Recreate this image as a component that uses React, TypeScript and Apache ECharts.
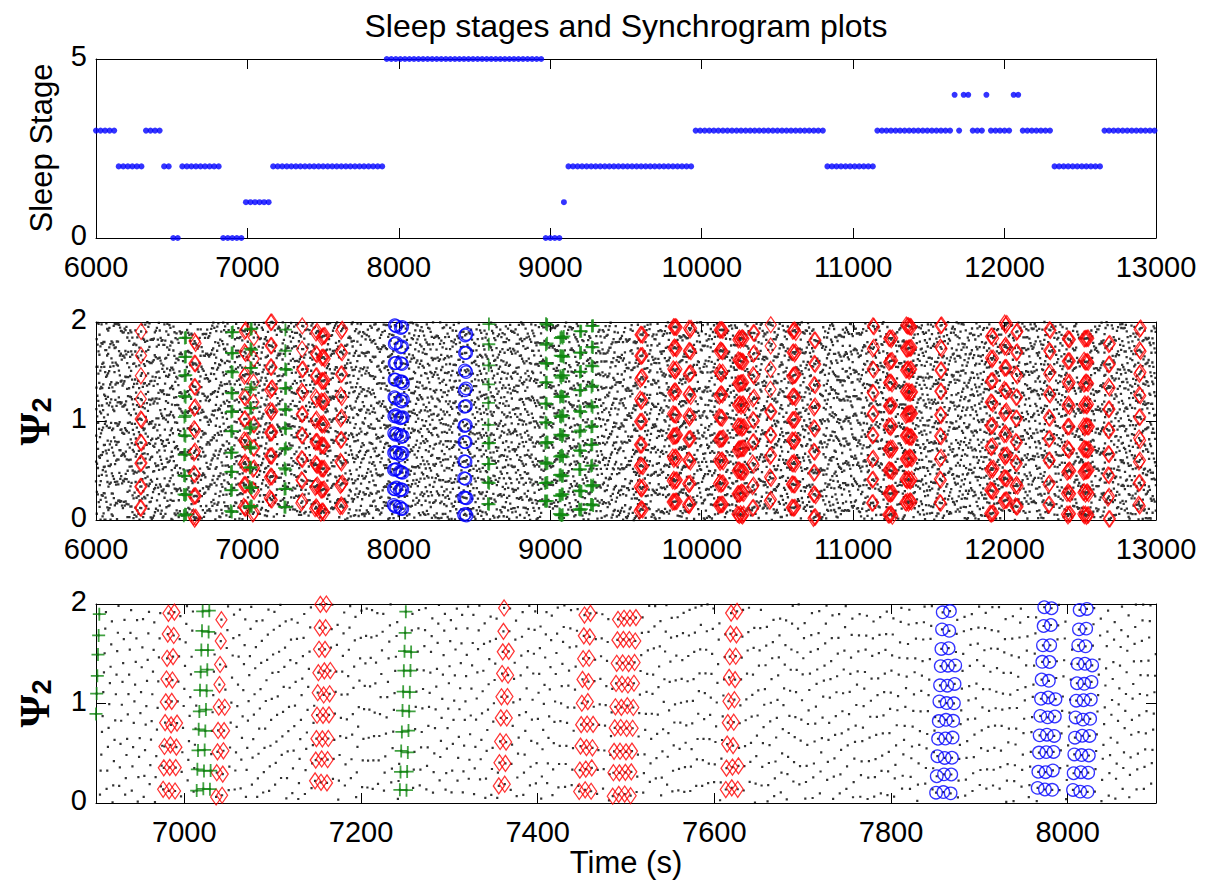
import React, { useEffect, useRef } from "react";
import * as echarts from "echarts";

// ---------------- DATA ----------------
const TITLE = "Sleep stages and Synchrogram plots";
const X_NAME = "Time (s)";
const STAGE_NAME = "Sleep Stage";

// Sleep stage hypnogram, 30 s epochs: [first epoch time (s), number of epochs, stage]
const stageRuns: [number, number, number][] = [
  [6000, 5, 3], [6150, 6, 2], [6330, 4, 3], [6450, 2, 2], [6510, 2, 0],
  [6570, 9, 2], [6840, 5, 0], [6990, 6, 1], [7170, 25, 2], [7920, 35, 5],
  [8970, 4, 0], [9090, 1, 1], [9120, 28, 2], [9960, 29, 3], [10830, 11, 2],
  [11160, 17, 3], [11670, 1, 4], [11700, 1, 3], [11730, 2, 4], [11790, 3, 3],
  [11880, 1, 4], [11910, 5, 3], [12060, 2, 4], [12120, 7, 3], [12330, 11, 2],
  [12660, 12, 3],
];
const EPOCH = 30;

// mean heart beat interval (s)
const beatInterval = 0.75;

// Ψ2 advance per heart beat between synchronisation episodes: [from time (s), step]
const phaseSteps: [number, number][] = [
  [6000, 0.231], [6080, 0.214], [6150, 0.238], [6230, 0.226], [6310, 0.209],
  [6400, 0.243], [6470, 0.217], [6530, 0.205], [6620, 0.228], [6700, 0.212],
  [6780, 0.235], [6850, 0.204], [6920, 0.218], [7000, 0.207], [7060, 0.229],
  [7100, 0.214], [7180, 0.236], [7220, 0.198], [7280, 0.226], [7330, 0.215],
  [7390, 0.232], [7420, 0.211], [7540, 0.228], [7580, 0.216], [7650, 0.205],
  [7700, 0.193], [7760, 0.188], [7810, 0.176], [7900, 0.186], [7940, 0.178],
  [8050, 0.191], [8120, 0.174], [8200, 0.185], [8280, 0.179], [8350, 0.188],
  [8470, 0.196], [8530, 0.207], [8620, 0.193], [8700, 0.212], [8780, 0.198],
  [8860, 0.206], [8920, 0.195], [9000, 0.214], [9120, 0.191], [9240, 0.208],
  [9320, 0.226], [9400, 0.213], [9480, 0.237], [9540, 0.219], [9650, 0.231],
  [9720, 0.212], [9760, 0.227], [9880, 0.215], [9960, 0.232], [10040, 0.216],
  [10180, 0.229], [10300, 0.211], [10380, 0.234], [10500, 0.218], [10560, 0.227],
  [10680, 0.213], [10780, 0.236], [10860, 0.209], [10940, 0.228], [11020, 0.217],
  [11080, 0.203], [11180, 0.233], [11300, 0.214], [11430, 0.229], [11500, 0.21],
  [11620, 0.237], [11700, 0.215], [11780, 0.203], [11850, 0.226], [11960, 0.214],
  [12040, 0.232], [12120, 0.218], [12200, 0.206], [12250, 0.229], [12350, 0.215],
  [12460, 0.238], [12600, 0.213], [12650, 0.226], [12720, 0.209], [12800, 0.234],
  [12850, 0.217], [12930, 0.228],
];

// short-term changes of the Ψ2 advance, one value per 25 s block (cycled)
const WOBBLE_BLOCK = 25;
const stepWobble = [
  0.011, -0.007, 0.014, -0.012, 0.003, -0.015, 0.008, 0.013, -0.004, -0.011,
  0.006, -0.014, 0.01, 0.001, -0.009, 0.015, -0.006, 0.004, -0.013, 0.009,
  -0.002, 0.012, -0.008,
];

// beat-to-beat Ψ2 irregularity (cycled over the beats)
const beatJitter = [
  0.012, -0.021, 0.005, 0.018, -0.009, -0.024, 0.015, 0.002, -0.013, 0.022,
  -0.006, 0.009, -0.018, 0.025, -0.002, -0.015, 0.011, 0.019, -0.023, 0.004,
  -0.011, 0.016, -0.004, 0.021, -0.019, 0.007, -0.026, 0.013, 0.001, -0.008,
  0.024, -0.016, 0.006, -0.012, 0.017, -0.003, 0.02,
];

// Synchronisation episodes:
// [first beat time (s), beats, rows per two breaths, Ψ2 of first beat, shown in overview (1/0)]
const redEpisodes: [number, number, number, number, number][] = [
  [6292, 14, 9, 0.12, 1], [6645, 20, 9, 0.02, 1], [6976, 22, 9, 0.13, 1],
  [7036, 14, 9, 0.07, 1], [7148, 24, 9, 0.21, 1], [7356, 16, 9, 0.18, 1],
  [7447, 22, 9, 0.12, 1], [7485, 36, 9, 0.08, 1], [7613, 20, 9, 0.14, 1],
  [9590, 30, 9, 0.1, 1], [9808, 40, 9, 0.18, 1], [9910, 27, 9, 0.15, 1],
  [10113, 40, 9, 0.15, 1], [10236, 60, 9, 0.05, 1], [10335, 18, 9, 0.12, 1],
  [10450, 14, 9, 0.2, 1], [10595, 36, 9, 0.13, 1], [10738, 20, 9, 0.03, 1],
  [11125, 18, 9, 0.18, 1], [11232, 40, 9, 0.05, 1], [11345, 60, 9, 0.18, 1],
  [11572, 18, 9, 0.18, 1], [11905, 30, 9, 0.07, 1], [11995, 30, 9, 0.2, 1],
  [12072, 20, 9, 0.13, 1], [12290, 18, 9, 0.15, 1], [12412, 30, 9, 0.05, 1],
  [12520, 50, 9, 0.05, 1], [12683, 18, 9, 0.23, 1], [12886, 18, 9, 0.15, 1],
];
const greenEpisodes: [number, number, number, number, number][] = [
  [6580, 22, 10, 0.05, 1], [6889.5, 20, 10, 0.09, 1], [7014, 22, 10, 0.13, 1],
  [7244, 18, 10, 0.12, 1], [8588, 14, 10, 0.17, 1], [8965, 24, 10, 0.18, 1],
  [9060, 40, 10, 0.05, 1], [9190, 22, 10, 0.1, 1], [9268, 22, 10, 0.15, 1],
];
const blueEpisodes: [number, number, number, number, number][] = [
  [7851, 30, 11, 0.1, 0], [7966, 28, 11, 0.14, 1], [8006, 30, 11, 0.12, 1],
  [8430, 24, 11, 0.05, 1],
];

const overviewRange = [6000, 13000];
const zoomRange = [6900, 8100];
const zoomTicks = [7000, 7200, 7400, 7600, 7800, 8000];

// ---------------- BUILD ----------------
type Beat = { t: number; psi: number; kind: number; overview: number };

const wrap2 = (v: number) => ((v % 2) + 2) % 2;

function buildBeats(): Beat[] {
  const eps = [
    ...redEpisodes.map((e) => ({ e, kind: 0 })),
    ...greenEpisodes.map((e) => ({ e, kind: 1 })),
    ...blueEpisodes.map((e) => ({ e, kind: 2 })),
  ].sort((a, b) => a.e[0] - b.e[0]);
  const beats: Beat[] = [];
  let t = overviewRange[0];
  let psi = 0.37;
  let ei = 0;
  let si = 0;
  let k = 0;
  while (t <= overviewRange[1]) {
    const ep = eps[ei];
    if (ep && t >= ep.e[0] - beatInterval * 0.5) {
      const [t0, N, n, psi0, ov] = ep.e;
      t = t0;
      psi = psi0;
      for (let j = 0; j < N; j++) {
        const jit = beatJitter[k % beatJitter.length] * 0.5;
        beats.push({ t, psi: wrap2(psi + jit), kind: ep.kind, overview: ov });
        psi = wrap2(psi + 2 / n);
        t += beatInterval;
        k++;
      }
      ei++;
      continue;
    }
    while (si + 1 < phaseSteps.length && phaseSteps[si + 1][0] <= t) si++;
    const jit = beatJitter[k % beatJitter.length];
    const wob = stepWobble[Math.floor((t - overviewRange[0]) / WOBBLE_BLOCK) % stepWobble.length];
    beats.push({ t, psi: wrap2(psi + 1.6 * jit), kind: -1, overview: 1 });
    psi = wrap2(psi + phaseSteps[si][1] + wob + jit);
    t += beatInterval;
    k++;
  }
  return beats;
}

const FONT = '"Liberation Sans", Arial, Helvetica, sans-serif';
const LABEL_SIZE = 29;

function xAx(gridIndex: number, range: number[], opts: any, top: boolean) {
  return {
    type: "value",
    gridIndex,
    position: top ? "top" : "bottom",
    min: range[0],
    max: range[1],
    ...opts,
    axisLine: { show: true, onZero: false, lineStyle: { color: "#000", width: 1 } },
    axisTick: {
      show: true,
      inside: true,
      length: 10,
      lineStyle: { color: "#000", width: 1 },
      ...(opts.customValues ? { customValues: opts.customValues } : {}),
    },
    axisLabel: {
      show: !top,
      color: "#000",
      fontSize: LABEL_SIZE,
      fontFamily: FONT,
      lineHeight: 24,
      margin: 17,
      formatter: (v: number) => String(v),
      ...(opts.customValues ? { customValues: opts.customValues } : {}),
    },
    splitLine: { show: false },
  };
}

function yAx(gridIndex: number, max: number, interval: number, right: boolean) {
  return {
    type: "value",
    gridIndex,
    position: right ? "right" : "left",
    min: 0,
    max,
    interval,
    axisLine: { show: true, onZero: false, lineStyle: { color: "#000", width: 1 } },
    axisTick: { show: true, inside: true, length: 10, lineStyle: { color: "#000", width: 1 } },
    axisLabel: {
      show: !right,
      color: "#000",
      margin: 9,
      formatter: (v: number) => `{v|${v}}`,
      rich: {
        v: {
          fontSize: LABEL_SIZE,
          fontFamily: FONT,
          color: "#000",
          lineHeight: 22,
          padding: [0, 0, 6, 0],
        },
      },
    },
    splitLine: { show: false },
  };
}

const PLUS = "path://M0,6H12M6,0V12";

function markerSeries(beats: Beat[], xi: number, yi: number) {
  const styles = [
    { symbol: "diamond", symbolSize: [11, 16], itemStyle: { color: "rgba(0,0,0,0)", borderColor: "#ff0000", borderWidth: 1.3 } },
    { symbol: PLUS, symbolSize: 13, itemStyle: { color: "rgba(0,0,0,0)", borderColor: "#108a10", borderWidth: 1.8 } },
    { symbol: "circle", symbolSize: 12.5, itemStyle: { color: "rgba(0,0,0,0)", borderColor: "#0000ff", borderWidth: 1.3 } },
  ];
  return styles.map((s, k) => ({
    type: "scatter",
    xAxisIndex: xi,
    yAxisIndex: yi,
    silent: true,
    clip: false,
    ...s,
    data: beats.filter((b) => b.kind === k).map((b) => [b.t, b.psi]),
  }));
}

function textEl(x: number, y: number, text: string, font: string, rotated: boolean) {
  return {
    type: "text",
    x,
    y,
    rotation: rotated ? Math.PI / 2 : 0,
    silent: true,
    style: {
      text,
      font,
      fill: "#000",
      align: "center",
      verticalAlign: "middle",
      textAlign: "center",
      textVerticalAlign: "middle",
    },
  };
}

export default function App() {
  const ref = useRef<HTMLDivElement>(null);
  useEffect(() => {
    if (!ref.current) return;
    const chart = echarts.init(ref.current, undefined, { renderer: "svg" });

    const stagePts: number[][] = [];
    stageRuns.forEach(([t0, count, stage]) => {
      for (let i = 0; i < count; i++) stagePts.push([t0 + i * EPOCH, stage]);
    });
    const beats = buildBeats();
    const overviewBeats = beats.filter((b) => b.t >= overviewRange[0] && b.t <= overviewRange[1]);
    const zoomBeats = beats.filter((b) => b.t >= zoomRange[0] && b.t <= zoomRange[1]);

    const grids = [
      { left: 96, top: 59, width: 1060, height: 179 },
      { left: 96, top: 322, width: 1060, height: 198 },
      { left: 96, top: 604, width: 1060, height: 199 },
    ];

    const dotSeries = (xi: number, data: number[][], size: number) => ({
      type: "scatter",
      xAxisIndex: xi,
      yAxisIndex: xi,
      silent: true,
      large: true,
      largeThreshold: 500,
      symbol: "rect",
      symbolSize: size,
      itemStyle: { color: "#000" },
      data,
    });

    const PSI_FONT = `bold 42px "Liberation Serif", "DejaVu Serif", serif`;
    const SUB_FONT = `bold 27px ${FONT}`;

    const option: any = {
      animation: false,
      backgroundColor: "#fff",
      grid: grids.map((g) => ({ ...g, containLabel: false })),
      xAxis: [
        xAx(0, overviewRange, { interval: 1000 }, false),
        xAx(0, overviewRange, { interval: 1000 }, true),
        xAx(1, overviewRange, { interval: 1000 }, false),
        xAx(1, overviewRange, { interval: 1000 }, true),
        xAx(2, zoomRange, { customValues: zoomTicks }, false),
        xAx(2, zoomRange, { customValues: zoomTicks }, true),
      ],
      yAxis: [
        yAx(0, 5, 5, false),
        yAx(0, 5, 5, true),
        yAx(1, 2, 1, false),
        yAx(1, 2, 1, true),
        yAx(2, 2, 1, false),
        yAx(2, 2, 1, true),
      ],
      series: [
        {
          type: "scatter",
          xAxisIndex: 0,
          yAxisIndex: 0,
          silent: true,
          clip: false,
          symbol: "circle",
          symbolSize: 6,
          itemStyle: { color: "#0000ff" },
          data: stagePts.filter((p) => p[0] <= overviewRange[1]),
        },
        dotSeries(2, overviewBeats.map((b) => [b.t, b.psi]), 2.3),
        ...markerSeries(overviewBeats.filter((b) => b.overview === 1), 2, 2),
        dotSeries(4, zoomBeats.map((b) => [b.t, b.psi]), 2.2),
        ...markerSeries(zoomBeats, 4, 4),
      ],
      graphic: [
        textEl(626, 26, TITLE, `32px ${FONT}`, false),
        textEl(626, 862, X_NAME, `31px ${FONT}`, false),
        textEl(41, 148, STAGE_NAME, `31px ${FONT}`, true),
        textEl(35, 429, "Ψ", PSI_FONT, true),
        textEl(42, 405, "2", SUB_FONT, true),
        textEl(35, 711, "Ψ", PSI_FONT, true),
        textEl(42, 687, "2", SUB_FONT, true),
      ],
    };
    chart.setOption(option);
    return () => chart.dispose();
  }, []);
  return (
    <div
      ref={ref}
      style={{ position: "absolute", left: 0, top: 0, width: 1212, height: 882, background: "#fff" }}
    />
  );
}
